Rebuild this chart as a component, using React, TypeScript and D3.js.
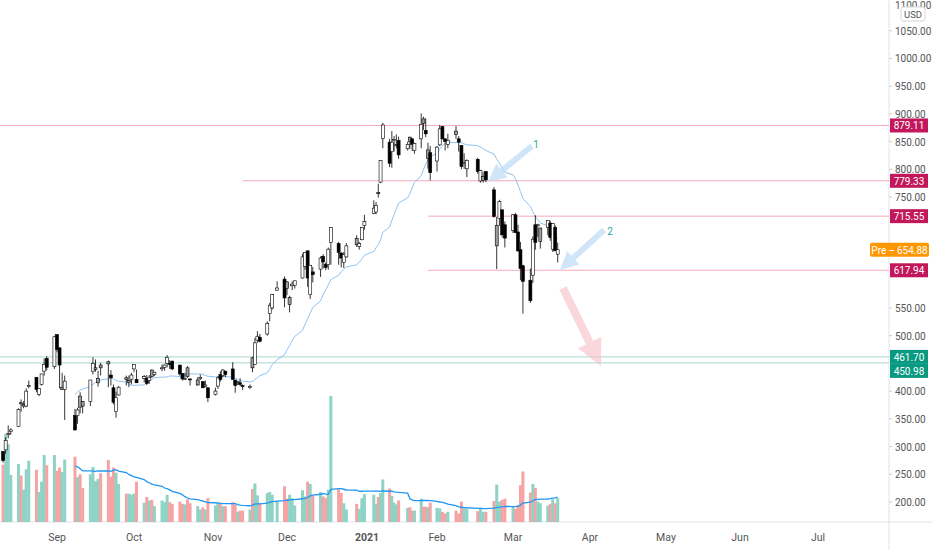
import React from "react";
import * as d3 from "d3";

// daily bars, Aug 11 2020 .. Mar 19 2021 : [open, high, low, close, volume (M)]
const dates: string[] = [
  "2020-08-11","2020-08-12","2020-08-13","2020-08-14","2020-08-17","2020-08-18","2020-08-19","2020-08-20","2020-08-21",
  "2020-08-24","2020-08-25","2020-08-26","2020-08-27","2020-08-28","2020-08-31","2020-09-01","2020-09-02","2020-09-03",
  "2020-09-04","2020-09-08","2020-09-09","2020-09-10","2020-09-11","2020-09-14","2020-09-15","2020-09-16","2020-09-17",
  "2020-09-18","2020-09-21","2020-09-22","2020-09-23","2020-09-24","2020-09-25","2020-09-28","2020-09-29","2020-09-30",
  "2020-10-01","2020-10-02","2020-10-05","2020-10-06","2020-10-07","2020-10-08","2020-10-09","2020-10-12","2020-10-13",
  "2020-10-14","2020-10-15","2020-10-16","2020-10-19","2020-10-20","2020-10-21","2020-10-22","2020-10-23","2020-10-26",
  "2020-10-27","2020-10-28","2020-10-29","2020-10-30","2020-11-02","2020-11-03","2020-11-04","2020-11-05","2020-11-06",
  "2020-11-09","2020-11-10","2020-11-11","2020-11-12","2020-11-13","2020-11-16","2020-11-17","2020-11-18","2020-11-19",
  "2020-11-20","2020-11-23","2020-11-24","2020-11-25","2020-11-27","2020-11-30","2020-12-01","2020-12-02","2020-12-03",
  "2020-12-04","2020-12-07","2020-12-08","2020-12-09","2020-12-10","2020-12-11","2020-12-14","2020-12-15","2020-12-16",
  "2020-12-17","2020-12-18","2020-12-21","2020-12-22","2020-12-23","2020-12-24","2020-12-28","2020-12-29","2020-12-30",
  "2020-12-31","2021-01-04","2021-01-05","2021-01-06","2021-01-07","2021-01-08","2021-01-11","2021-01-12","2021-01-13",
  "2021-01-14","2021-01-15","2021-01-19","2021-01-20","2021-01-21","2021-01-22","2021-01-25","2021-01-26","2021-01-27",
  "2021-01-28","2021-01-29","2021-02-01","2021-02-02","2021-02-03","2021-02-04","2021-02-05","2021-02-08","2021-02-09",
  "2021-02-10","2021-02-11","2021-02-12","2021-02-16","2021-02-17","2021-02-18","2021-02-19","2021-02-22","2021-02-23",
  "2021-02-24","2021-02-25","2021-02-26","2021-03-01","2021-03-02","2021-03-03","2021-03-04","2021-03-05","2021-03-08",
  "2021-03-09","2021-03-10","2021-03-11","2021-03-12","2021-03-15","2021-03-16","2021-03-17","2021-03-18","2021-03-19",
];

const bars: number[][] = [
  [291,292,271,275,101],[294,317,287,311,155],[322,338,315,324,137],[327,333,321,330,83],[336,369,335,367,102],
  [379,385,363,377,82],[373,382,369,376,57],[373,405,371,400,93],[408,419,405,410,108],[425,425,398,403,92],
  [394,405,391,405,53],[412,431,410,431,71],[436,459,428,448,118],[459,463,437,443,100],[444,500,440,498,118],
  [502,502,470,475,90],[478,479,405,447,96],[403,433,402,407,88],[403,428,348,418,110],[356,368,329,330,115],
  [356,370,341,366,79],[391,398,360,371,84],[381,382,360,373,60],[381,420,373,420,84],[436,461,430,450,97],
  [439,457,435,442,72],[415,437,408,423,76],[447,451,428,442,86],[453,455,407,449,109],[429,438,410,424,80],
  [406,412,376,380,96],[363,399,352,388,87],[393,409,392,407,67],[424,428,410,421,50],[416,428,407,419,50],
  [421,433,412,429,48],[440,448,434,448,50],[421,439,415,415,71],[423,429,416,426,34],[423,429,411,414,44],
  [419,429,413,425,38],[438,439,424,426,39],[430,435,427,434,28],[442,448,436,442,38],[443,448,437,447,35],
  [450,465,443,461,48],[450,456,440,449,35],[454,455,438,440,32],[447,447,428,431,36],[432,432,419,422,32],
  [422,433,420,423,31],[442,445,424,426,40],[422,422,410,421,33],[411,425,410,420,28],[423,430,420,425,22],
  [417,418,406,406,26],[409,419,407,411,22],[406,407,380,388,42],[394,406,392,400,29],[409,427,404,424,34],
  [430,436,417,421,32],[428,440,425,438,28],[436,436,425,430,28],[440,452,421,421,35],[420,420,397,410,30],
  [416,418,411,417,18],[415,423,409,412,20],[410,412,402,408,20],[408,412,404,408,22],[460,462,434,442,58],
  [448,496,448,487,68],[492,508,487,499,47],[497,503,488,490,33],[503,526,500,522,51],[540,559,526,555,53],
  [550,575,547,574,48],[582,598,581,586,37],[602,607,551,568,63],[597,598,573,585,41],[556,572,542,569,48],
  [590,598,582,593,42],[591,599,585,599,29],[604,648,603,642,56],[625,651,619,650,45],[653,654,588,604,71],
  [574,627,566,627,67],[615,624,596,610,46],[620,643,606,640,53],[643,647,621,633,45],[629,632,618,623,42],
  [628,659,619,656,57],[668,695,628,695,222],[666,669,628,650,58],[649,651,623,640,51],[632,651,622,646,33],
  [642,667,641,662,22],[675,681,660,664,32],[661,669,655,666,23],[673,696,672,695,42],[699,718,691,706,49],
  [720,744,719,730,48],[723,741,719,735,32],[758,774,749,756,44],[777,816,775,816,51],[856,884,838,880,75],
  [849,855,804,811,59],[832,869,803,849,46],[852,860,832,854,34],[843,863,838,845,31],[852,859,819,826,38],
  [837,850,834,845,25],[858,859,837,850,26],[855,856,833,845,20],[834,848,828,847,20],[855,901,838,881,41],
  [891,895,871,883,27],[870,892,858,864,27],[820,848,801,835,26],[830,842,780,794,34],[815,842,796,840,25],
  [844,880,842,873,24],[877,878,854,855,18],[855,856,834,850,15],[845,864,838,852,18],[869,878,855,863,20],
  [855,860,832,849,15],[843,844,800,805,36],[812,829,801,812,24],[801,818,786,816,23],[818,821,792,796,19],
  [779,799,776,798,25],[780,795,776,787,18],[796,797,777,781,18],[763,768,713,715,37],[662,714,620,699,66],
  [711,745,698,742,36],[727,727,677,682,39],[700,706,659,676,41],[690,719,685,718,27],[718,721,685,686,23],
  [687,700,651,653,30],[655,669,600,621,65],[626,628,540,598,89],[600,621,559,563,52],[609,679,595,674,67],
  [700,717,655,668,60],[699,702,678,700,36],[670,695,657,694,33],[695,708,681,708,29],[703,707,671,677,32],
  [656,703,651,702,40],[695,699,653,653,33],[647,668,632,655,42],
];

const priceTicks = [200,250,300,350,400,450,500,550,600,650,700,750,800,850,900,950,1000,1050];
const monthTicks = ["2020-09-01","2020-10-01","2020-11-01","2020-12-01","2021-01-01","2021-02-01","2021-03-01","2021-04-01","2021-05-01","2021-06-01","2021-07-01"];
const monthLabels = ["Sep","Oct","Nov","Dec","2021","Feb","Mar","Apr","May","Jun","Jul"];
const monthPx = [57,134,213,287,367,437,513,590,666,740,818];

// horizontal levels: [price, start date, colour kind]
const levels: [number, string | null, string][] = [
  [879.11, null, "red"],
  [779.33, "2020-11-13", "red"],
  [715.55, "2021-01-28", "red"],
  [617.94, "2021-01-28", "red"],
  [461.70, null, "green"],
  [450.98, null, "green"],
];
const lastPrice = 654.88;

const W = 932, H = 550, AX = 889;
const parse = d3.timeParse("%Y-%m-%d");

export default function App() {
  const x = d3.scaleTime().domain(monthTicks.map(d => parse(d)!)).range(monthPx);
  const y = d3.scaleLinear().domain([200, 1100]).range([502, 3]);
  const v = d3.scaleLinear().domain([0, 222]).range([522, 396]);
  const font = "Roboto, 'Noto Sans', sans-serif";

  const closes = bars.map(b => b[3]);
  const vols = bars.map(b => b[4]);
  const sma = (arr: number[], n: number) => arr.map((_, i) => i < n - 1 ? null : d3.mean(arr.slice(i - n + 1, i + 1))!);
  const maP = sma(closes, 20);
  const maV = sma(vols, 20);
  const lineP = d3.line<[number, number | null]>().defined(d => d[1] != null).x(d => d[0]).y(d => y(d[1]!));
  const lineV = d3.line<[number, number | null]>().defined(d => d[1] != null).x(d => d[0]).y(d => v(d[1]!));
  const xs = dates.map(d => x(parse(d)!));

  // badge centres, pushed apart where two levels sit too close
  const badgeY: number[] = [];
  levels.forEach(([p], i) => {
    let b = y(p);
    if (i > 0 && b - badgeY[i - 1] < 14) b = badgeY[i - 1] + 14;
    badgeY.push(b);
  });
  const allBadges = [...badgeY, y(lastPrice)];
  const visibleTicks = priceTicks.filter(t => allBadges.every(b => Math.abs(b - y(t)) > 10));

  const arrow = (x1: number, y1: number, x2: number, y2: number, w: number, hw: number, hl: number) => {
    const dx = x2 - x1, dy = y2 - y1, L = Math.hypot(dx, dy), ux = dx / L, uy = dy / L, px = -uy, py = ux;
    const bx = x2 - ux * hl, by = y2 - uy * hl;
    const p = [
      [x1 + px * w, y1 + py * w], [bx + px * w, by + py * w], [bx + px * hw, by + py * hw], [x2, y2],
      [bx - px * hw, by - py * hw], [bx - px * w, by - py * w], [x1 - px * w, y1 - py * w],
    ];
    return "M" + p.map(q => q.join(",")).join("L") + "Z";
  };

  return (
    <svg width={W} height={H} style={{ position: "absolute", left: 0, top: 0, background: "#fff", fontFamily: font }}>
      <line x1={AX} x2={AX} y1={0} y2={H} stroke="#e0e3eb" />
      <line x1={0} x2={W} y1={522} y2={522} stroke="#e0e3eb" />
      {/* volume */}
      {bars.map((b, i) => (
        <rect key={"v" + i} x={xs[i] - 1.5} width={3} y={v(b[4])} height={522 - v(b[4])}
          fill={b[3] >= b[0] ? "#8fd3c6" : "#f5a3a3"} />
      ))}
      <path d={lineV(xs.map((xx, i) => [xx, maV[i]]))!} fill="none" stroke="#2196f3" strokeWidth={1.3} />
      {/* levels */}
      {levels.map(([p, s, c], i) => (
        <line key={"l" + i} x1={s ? x(parse(s)!) : 0} x2={AX} y1={y(p)} y2={y(p)}
          stroke={c === "red" ? "#f5a9bb" : "#a8d5d0"} strokeWidth={1} />
      ))}
      {/* MA */}
      <path d={lineP(xs.map((xx, i) => [xx, maP[i]]))!} fill="none" stroke="#8ec3f5" strokeWidth={1} />
      {/* candles */}
      {bars.map((b, i) => {
        const [o, h, l, c] = b;
        const up = c >= o;
        const prev = i > 0 ? bars[i - 1][3] : o;
        const fill = up ? (c < prev ? "#9e9e9e" : "#fff") : (c > prev ? "#9e9e9e" : "#000");
        const top = y(Math.max(o, c)), bot = y(Math.min(o, c));
        return (
          <g key={"c" + i}>
            <line x1={xs[i]} x2={xs[i]} y1={y(h)} y2={y(l)} stroke="#000" strokeWidth={0.8} />
            <rect x={xs[i] - 1.5} width={3} y={top} height={Math.max(1, bot - top)} fill={fill} stroke="#000" strokeWidth={0.6} />
          </g>
        );
      })}
      {/* annotations */}
      <path d={arrow(532, 146, 488, 182, 3, 9, 18)} fill="#bcdcf5" opacity={0.7} />
      <text x={536} y={148} fontSize={10} fill="#26a69a" textAnchor="middle">1</text>
      <path d={arrow(604, 230, 560, 270, 3, 9, 18)} fill="#bcdcf5" opacity={0.7} />
      <text x={610} y={235} fontSize={10} fill="#26a69a" textAnchor="middle">2</text>
      <path d={arrow(563, 288, 601, 366, 4, 13, 26)} fill="#f6c6cf" opacity={0.7} />
      {/* price axis */}
      {visibleTicks.map(t => (
        <g key={"t" + t}>
          <line x1={AX} x2={AX + 3} y1={y(t)} y2={y(t)} stroke="#ccc" />
          <text x={AX + 6} y={y(t) + 4} fontSize={10} fill="#555">{t.toFixed(2)}</text>
        </g>
      ))}
      <text x={AX + 6} y={9} fontSize={10} fill="#555">1100.00</text>
      <rect x={901} y={7} width={24} height={14} rx={2} fill="#fff" stroke="#d6d6d6" />
      <text x={913} y={18} fontSize={9.5} fill="#555" textAnchor="middle">USD</text>
      {levels.map(([p, , c], i) => (
        <g key={"b" + i}>
          <rect x={AX + 1} y={badgeY[i] - 7} width={38} height={14} fill={c === "red" ? "#c2185b" : "#089981"} />
          <text x={AX + 20} y={badgeY[i] + 4} fontSize={10} fill="#fff" textAnchor="middle">{p.toFixed(2)}</text>
        </g>
      ))}
      <rect x={870} y={y(lastPrice) - 7} width={59} height={14} rx={2} fill="#ff9800" />
      <text x={899.5} y={y(lastPrice) + 4} fontSize={10} fill="#fff" textAnchor="middle">{"Pre ‒ " + lastPrice.toFixed(2)}</text>
      {/* time axis */}
      {monthTicks.map((m, i) => (
        <text key={m} x={x(parse(m)!)} y={541} fontSize={10.5} fill="#555" textAnchor="middle"
          fontWeight={monthLabels[i] === "2021" ? "bold" : "normal"}>{monthLabels[i]}</text>
      ))}
    </svg>
  );
}
